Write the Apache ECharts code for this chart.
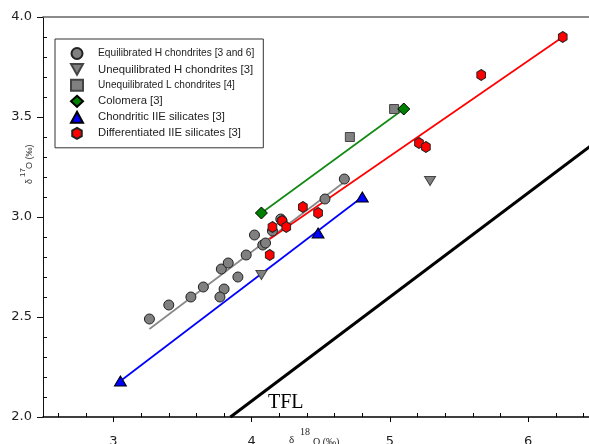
<!DOCTYPE html>
<html><head><meta charset="utf-8">
<script src="https://cdn.jsdelivr.net/npm/echarts@6/dist/echarts.min.js"></script>
<style>html,body{margin:0;padding:0;background:#fff}#c{width:589px;height:444px}</style>
</head><body><div id="c"></div>
<script>
// ---- data ----
const eqHX = [3.26,3.40,3.56,3.65,3.78,3.83,3.80,3.77,3.90,3.96,4.02,4.08,4.10,4.21,4.22,4.15,4.53,4.67];
const eqHY = [2.49,2.56,2.60,2.65,2.74,2.77,2.64,2.60,2.70,2.81,2.91,2.86,2.87,2.99,2.98,2.93,3.09,3.19];
const unHX = [4.07,5.29];
const unHY = [2.71,3.18];
const unLX = [4.71,5.03];
const unLY = [3.40,3.54];
const colX = [4.07,5.10];
const colY = [3.02,3.54];
const chX = [3.05,4.48,4.80];
const chY = [2.18,2.92,3.10];
const difX = [4.15,4.22,4.25,4.37,4.48,4.13,5.21,5.26,5.66,6.25];
const difY = [2.95,2.98,2.95,3.05,3.02,2.81,3.37,3.35,3.71,3.90];
// fitted lines (end points)
const eqLineX = [3.26,4.66];   const eqLineY = [2.44,3.17];
const colLineX = [4.07,5.10];  const colLineY = [3.02,3.54];
const chLineX = [3.05,4.80];   const chLineY = [2.18,3.10];
const difLineX = [4.13,6.25];  const difLineY = [2.89,3.90];
const tflX = [3.846,6.6];      const tflY = [2.0,3.432];
// ticks
const xMajor = [3,4,5,6];
const xMinor = [2.6,2.8,3.2,3.4,3.6,3.8,4.2,4.4,4.6,4.8,5.2,5.4,5.6,5.8,6.2,6.4];
const yMajor = [2.0,2.5,3.0,3.5,4.0];
const yMinor = [2.1,2.2,2.3,2.4,2.6,2.7,2.8,2.9,3.1,3.2,3.3,3.4,3.6,3.7,3.8,3.9];
const legendNames = ['Equilibrated H chondrites [3 and 6]','Unequilibrated H chondrites [3]','Unequilibrated L chondrites [4]','Colomera [3]','Chondritic IIE silicates [3]','Differentiated IIE silicates [3]'];

const zip = (a,b)=>a.map((v,i)=>[v,b[i]]);
const XMIN = 2.49, XMAX = 6.44;
const hexPath = 'path://M0,-10 L8.66,-5 L8.66,5 L0,10 L-8.66,5 L-8.66,-5 Z';
const invTri = 'path://M0,0 L10,0 L5,9 Z';

const chart = echarts.init(document.getElementById('c'), null, {renderer:'canvas'});
const gridBox = {left:43, right:0, top:17, bottom:27, containLabel:false, outerBoundsMode:'none'};
const lineS = (name,xs,ys,color,w)=>({type:'line', name, data:zip(xs,ys), symbol:'none', z:4,
  lineStyle:{color, width:w}, silent:true, animation:false, xAxisIndex:0, yAxisIndex:0});
const scat = (name,xs,ys,symbol,size,fill,border)=>({type:'scatter', name, data:zip(xs,ys), symbol, symbolSize:size,
  symbolKeepAspect:true, z:5, itemStyle:{color:fill, borderColor:border, borderWidth:1, opacity:1}, animation:false, xAxisIndex:0, yAxisIndex:0});

chart.setOption({
  backgroundColor:'#fff',
  animation:false,
  grid:[Object.assign({},gridBox),Object.assign({},gridBox)],
  xAxis:[
    {type:'value', gridIndex:0, min:XMIN, max:XMAX, position:'bottom',
     axisLine:{lineStyle:{color:'#000', width:1.5}},
     axisTick:{customValues:xMajor, length:5, lineStyle:{color:'#000'}},
     axisLabel:{customValues:xMajor, margin:18, fontSize:13, fontFamily:'DejaVu Sans', color:'#222'},
     splitLine:{show:false}},
    {type:'value', gridIndex:1, min:XMIN, max:XMAX, position:'bottom',
     axisLine:{show:false},
     axisTick:{customValues:xMinor, inside:true, length:4, lineStyle:{color:'#000'}},
     axisLabel:{show:false}, splitLine:{show:false}},
    {type:'value', gridIndex:1, min:XMIN, max:XMAX, position:'top',
     axisLine:{lineStyle:{color:'#666', width:1.5}},
     axisTick:{show:false}, axisLabel:{show:false}, splitLine:{show:false}}
  ],
  yAxis:[
    {type:'value', gridIndex:0, min:2, max:4,
     axisLine:{show:true, lineStyle:{color:'#111', width:1}},
     axisTick:{show:true, customValues:yMajor, length:6, lineStyle:{color:'#111'}},
     axisLabel:{customValues:yMajor, margin:11, fontSize:13, fontFamily:'DejaVu Sans', color:'#222',
       formatter:v=>v.toFixed(1)},
     splitLine:{show:false}},
    {type:'value', gridIndex:1, min:2, max:4,
     axisLine:{show:false},
     axisTick:{show:true, customValues:yMinor, inside:true, length:4, lineStyle:{color:'#111'}},
     axisLabel:{show:false}, splitLine:{show:false}}
  ],
  legend:{
    show:true, orient:'vertical', left:55, top:39, padding:[8,9,8,15],
    borderColor:'#333', borderWidth:1, backgroundColor:'#fff',
    itemWidth:12, itemHeight:11, itemGap:3,
    textStyle:{fontFamily:'Liberation Sans', fontSize:11.3, color:'#222', padding:[0,0,0,10], lineHeight:11},
    data:[
      {name:legendNames[0], textStyle:{fontSize:10.2}},
      {name:legendNames[1]},
      {name:legendNames[2], textStyle:{fontSize:10.1}},
      {name:legendNames[3]},
      {name:legendNames[4]},
      {name:legendNames[5]}
    ]
  },
  series:[
    Object.assign(lineS('TFL', tflX, tflY, '#000', 3), {z:3}),
    scat(legendNames[0], eqHX, eqHY, 'circle', 10, '#808080', '#222'),
    scat(legendNames[1], unHX, unHY, invTri, [11,10], '#808080', '#444'),
    scat(legendNames[2], unLX, unLY, 'rect', 9, '#808080', '#444'),
    scat(legendNames[3], colX, colY, 'diamond', 12, '#008000', '#000'),
    scat(legendNames[4], chX, chY, 'triangle', [12,10], '#0000ff', '#000'),
    scat(legendNames[5], difX, difY, hexPath, [10,11], '#ff0000', '#222'),
    lineS('eqFit', eqLineX, eqLineY, '#888', 1.7),
    lineS('colFit', colLineX, colLineY, '#138a13', 1.7),
    lineS('chFit', chLineX, chLineY, '#0000ff', 1.7),
    lineS('difFit', difLineX, difLineY, '#ff0000', 1.7)
  ],
  graphic:[
    {type:'text', left:268, top:393, z:10, style:{text:'TFL', font:'20px "Liberation Serif"', fill:'#000'}},
    // x axis title
    {type:'text', x:289, y:446, z:10, style:{text:'δ', font:'11px "Liberation Serif"', fill:'#222', verticalAlign:'bottom'}},
    {type:'text', x:300, y:437, z:10, style:{text:'18', font:'10px "Liberation Serif"', fill:'#222', verticalAlign:'bottom'}},
    {type:'text', x:313, y:447, z:10, style:{text:'O (‰)', font:'10px "Liberation Serif"', fill:'#222', verticalAlign:'bottom'}},
    // y axis title (rotated)
    {type:'group', x:34, y:184, rotation:Math.PI/2, z:10, children:[
      {type:'text', x:0, y:0, style:{text:'δ', font:'9px "Liberation Sans"', fill:'#333', verticalAlign:'bottom'}},
      {type:'text', x:7, y:-7, style:{text:'17', font:'8px "Liberation Sans"', fill:'#333', verticalAlign:'bottom'}},
      {type:'text', x:15, y:0, style:{text:'O (‰)', font:'9px "Liberation Sans"', fill:'#333', verticalAlign:'bottom'}}
    ]}
  ]
});
</script></body></html>
